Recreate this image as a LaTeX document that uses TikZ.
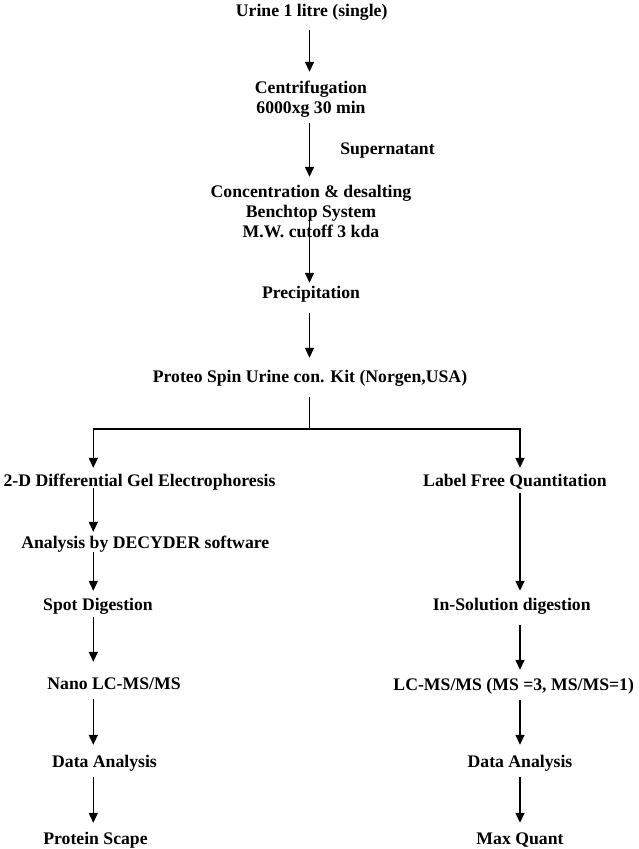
\documentclass[tikz,border=0pt]{standalone}
\usepackage{fontspec}
\setmainfont{Liberation Serif}
\usetikzlibrary{arrows.meta}
\begin{document}
\begin{tikzpicture}[x=1pt,y=-1pt,
  lbl/.style={anchor=base,inner sep=0pt,text height=12pt,text depth=4pt,
    font=\fontsize{17.7}{21}\selectfont\bfseries},
  arr/.style={-{Triangle[width=9pt,length=10pt]},line width=1.5pt},
  plain/.style={line width=1.5pt}]
\useasboundingbox[fill=white] (0,0) rectangle (638,849);
\coordinate (M) at (309.5,0);
\coordinate (L) at (93.3,0);
\coordinate (R) at (520,0);
\coordinate (bar) at (309.5,429);
% nodes
\node[lbl] (urine) at (311.7,16.5) {Urine 1 litre (single)};
\node[lbl] (cent1) at (311,93) {Centrifugation};
\node[lbl] (cent2) at (311,113) {6000xg 30 min};
\node[lbl] (super) at (387.5,154) {Supernatant};
\node[lbl] (conc1) at (311,197) {Concentration \& desalting};
\node[lbl] (conc2) at (311,217) {Benchtop System};
\node[lbl] (conc3) at (311,237) {M.W. cutoff 3 kda};
\node[lbl] (prec) at (311,298) {Precipitation};
\node[lbl] (proteo) at (310,382) {Proteo Spin Urine con. Kit (Norgen,USA)};
\node[lbl] (gel) at (139.5,486) {2-D Differential Gel Electrophoresis};
\node[lbl] (lfq) at (515,486) {Label Free Quantitation};
\node[lbl] (dec) at (145.3,548) {Analysis by DECYDER software};
\node[lbl] (spot) at (98,610) {Spot Digestion};
\node[lbl] (insol) at (511.7,610) {In-Solution digestion};
\node[lbl] (nano) at (114,689) {Nano LC-MS/MS};
\node[lbl] (lcms) at (513.7,690) {LC-MS/MS (MS =3, MS/MS=1)};
\node[lbl] (da1) at (104.5,767) {Data Analysis};
\node[lbl] (da2) at (520,767) {Data Analysis};
\node[lbl] (ps) at (95.5,844) {Protein Scape};
\node[lbl] (mq) at (520,844) {Max Quant};
% connectors
\draw[arr,shorten <=9.5pt,shorten >=9pt] (urine.south -| M) -- (cent1.north -| M);
\draw[arr,shorten <=6pt,shorten >=8pt] (cent2.south -| M) -- (conc1.north -| M);
\draw[arr,shorten <=-23pt,shorten >=3pt] (conc3.south -| M) -- (prec.north -| M);
\draw[arr,shorten <=11pt,shorten >=12pt] (prec.south -| M) -- (proteo.north -| M);
\draw[plain,shorten <=11pt] (proteo.south -| M) -- (bar);
\draw[arr,shorten >=6pt] (bar) -| (gel.north -| L);
\draw[arr,shorten >=6pt] (bar) -| (lfq.north -| R);
\draw[arr,shorten <=-2pt,shorten >=4pt] (gel.south -| L) -- (dec.north -| L);
\draw[arr,shorten >=7pt] (dec.south -| L) -- (spot.north -| L);
\draw[arr,shorten <=3pt,shorten >=7pt] (lfq.south -| R) -- (insol.north -| R);
\draw[arr,shorten <=3pt,shorten >=15pt] (spot.south -| L) -- (nano.north -| L);
\draw[arr,shorten <=11pt,shorten >=8pt] (insol.south -| R) -- (lcms.north -| R);
\draw[arr,shorten <=6pt,shorten >=10pt] (nano.south -| L) -- (da1.north -| L);
\draw[arr,shorten <=6pt,shorten >=10pt] (lcms.south -| R) -- (da2.north -| R);
\draw[arr,shorten <=6pt,shorten >=9pt] (da1.south -| L) -- (ps.north -| L);
\draw[arr,shorten <=6pt,shorten >=9pt] (da2.south -| R) -- (mq.north -| R);
\end{tikzpicture}
\end{document}
